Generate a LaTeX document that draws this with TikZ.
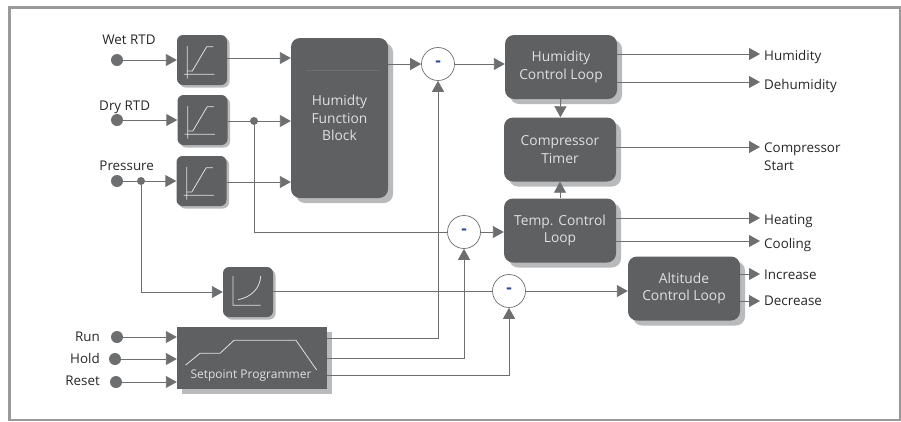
\documentclass[tikz,border=0pt]{standalone}
\usepackage{fontspec}
\setmainfont{Open Sans}
\usepackage{xcolor}
\usepackage{tikz}
\usetikzlibrary{positioning, arrows.meta, shadows, calc}
\definecolor{blockgrey}{HTML}{5F6062}
\definecolor{shadegrey}{HTML}{B9BABB}
\definecolor{wiregrey}{HTML}{6D6E70}
\definecolor{minusblue}{HTML}{2B4A9B}
\tikzset{
	wire/.style={color=wiregrey, line width=0.9pt},
	loopbox/.style={fill=blockgrey, rounded corners=9pt, minimum width=112pt, minimum height=64pt, inner sep=0pt, text=white!88!black, align=center, font=\fontsize{13.8}{17.7}\selectfont, drop shadow={shadow xshift=5pt, shadow yshift=-5pt, fill=shadegrey, opacity=1}},
	scalebox/.style={fill=blockgrey, rounded corners=6pt, minimum width=50pt, minimum height=50pt, inner sep=0pt, drop shadow={shadow xshift=2.5pt, shadow yshift=-2.5pt, fill=shadegrey, opacity=1}},
	dot/.style={circle, fill=wiregrey, inner sep=0pt, minimum size=#1},
	dot/.default=12pt,
	sumnode/.style={circle, draw=wiregrey, fill=white, line width=0.7pt, minimum size=33pt, inner sep=0pt, text=minusblue, font=\fontsize{17}{17}\selectfont\bfseries},
	txt/.style={text=black!85, inner sep=0pt, font=\fontsize{13.4}{18}\selectfont},
	icon/.style={draw=white!88!black, line width=0.8pt}
}
\newcommand{\rampicon}[1]{%
	\draw[icon, shift={(#1.center)}] (-14.7,-14) -- (-14.7,18.7) (-18,14.3) -- (12.3,14.3) (-14.7,11) -- (-9.7,11) -- (4.7,-13.3) -- (11.3,-13.3);}
\begin{document}
\begin{tikzpicture}[x=1pt, y=-1pt, >={Triangle[length=11pt, width=12pt]}]
	\useasboundingbox (0,0) rectangle (901,421);
	\draw[draw=black!40, line width=2.4pt] (9.3,7.3) rectangle (900,420);

	% Inputs
	\node[dot] (wet) at (117,60) {};
	\node[dot] (dry) at (117,120) {};
	\node[dot] (press) at (117,181) {};
	\node[dot] (run) at (117,337) {};
	\node[dot] (hold) at (115,359) {};
	\node[dot] (reset) at (116,382) {};
	\node[txt, anchor=base] (wetlabel) at (129,44) {Wet RTD};
	\node[txt, anchor=base] (drylabel) at (124.7,110) {Dry RTD};
	\node[txt, anchor=base] (presslabel) at (126.7,170) {Pressure};
	\node[txt, anchor=base east] (runlabel) at (100,341) {Run};
	\node[txt, anchor=base east] (holdlabel) at (100,363) {Hold};
	\node[txt, anchor=base east] (resetlabel) at (100,385) {Reset};

	% Blocks
	\node[scalebox] (wetscale) at (202,60) {};
	\node[scalebox] (dryscale) at (202.5,120) {};
	\node[scalebox] (pressscale) at (201.5,181) {};
	\node[scalebox] (altscale) at (248,292) {};
	\node[loopbox, minimum width=97pt, minimum height=160pt] (func) at (339.5,118) {Humidty\\Function\\Block};
	\draw[draw=wiregrey, line width=0.6pt] (306,70) -- (380,70);
	\node[fill=blockgrey, minimum width=150pt, minimum height=62pt, inner sep=0pt, drop shadow={shadow xshift=5pt, shadow yshift=-5pt, fill=shadegrey, opacity=1}] (prog) at (252,358) {};
	\node[text=white!88!black, inner sep=0pt, font=\fontsize{12}{12}\selectfont] (proglabel) at (251,376) {Setpoint Programmer};
	\node[loopbox] (humloop) at (561,67) {Humidity\\Control Loop};
	\node[loopbox] (timer) at (560,149.5) {Compressor\\Timer};
	\node[loopbox] (temploop) at (560,230.5) {Temp. Control\\Loop};
	\node[loopbox] (altloop) at (684,288.5) {Altitude\\Control Loop};

	% Curves drawn on the blocks
	\rampicon{wetscale}
	\rampicon{dryscale}
	\rampicon{pressscale}
	\draw[icon, shift={(altscale.center)}] (-15,-16) -- (-15,13.3) -- (12.7,13.3) (-10,7.7) .. controls (4,5) and (12,-4) .. (12.7,-16);
	\draw[icon] (185.7,365) -- (200,353.3) -- (220,353.3) -- (234,340.3) -- (296,340.3) -- (316.7,370);

	% Summing points
	\node[sumnode] (sumhum) at (438,64) {-};
	\node[sumnode] (sumtemp) at (464,232) {-};
	\node[sumnode] (sumalt) at (509,291) {-};

	% Branch points
	\node[dot=8pt] (drytap) at (254,121) {};
	\node[dot=8pt] (presstap) at (141,181) {};

	% Outputs
	\node[txt, anchor=base west] (humidity) at (764,60) {Humidity};
	\node[txt, anchor=base west] (dehum) at (764,89) {Dehumidity};
	\node[txt, anchor=base west] (start) at (764,152) {Compressor};
	\node[txt, anchor=base west] at (764,170) {Start};
	\node[txt, anchor=base west] (heating) at (764,224) {Heating};
	\node[txt, anchor=base west] (cooling) at (764,248) {Cooling};
	\node[txt, anchor=base west] (incr) at (764,279) {Increase};
	\node[txt, anchor=base west] (decr) at (764,305) {Decrease};
	\coordinate (humend) at (760,54);
	\coordinate (dehumend) at (760,82);
	\coordinate (startend) at (760,147);
	\coordinate (heatend) at (760,218);
	\coordinate (coolend) at (760,241);
	\coordinate (incrend) at (760,274);
	\coordinate (decrend) at (760,301);

	% Connections
	\path[wire, ->] (wet) edge (wetscale);
	\path[wire, ->] (dry) edge (dryscale);
	\path[wire, ->] (press) edge (pressscale);
	\path[wire, ->] (run) edge (prog.west |- run);
	\path[wire, ->] (hold) edge (prog.west |- hold);
	\path[wire, ->] (reset) edge (prog.west |- reset);
	\path[wire, ->] (wetscale.east |- 0,58) edge (func.west |- 0,58);
	\path[wire, ->] (dryscale.east |- drytap) edge (func.west |- drytap);
	\path[wire, ->] (pressscale.east |- 0,182) edge (func.west |- 0,182);
	\path[wire, ->] (func.east |- sumhum) edge (sumhum);
	\path[wire, ->] (sumhum) edge (humloop.west |- sumhum);
	\path[wire, ->] (humloop) edge (timer);
	\path[wire, ->] (temploop) edge (timer);
	\path[wire, ->] (sumtemp) edge (temploop.west |- sumtemp);
	\path[wire, ->] (sumalt) edge (altloop.west |- sumalt);
	\draw[wire] (drytap) |- (sumtemp);
	\draw[wire, ->] (presstap) |- (altscale);
	\draw[wire] (altscale.east |- sumalt) -- (sumalt);
	\draw[wire, ->] (prog.east |- 0,338) -| (sumhum);
	\draw[wire, ->] (prog.east |- 0,358) -| (sumtemp);
	\draw[wire, ->] (prog.east |- 0,375) -| (sumalt);
	\path[wire, ->] (humloop.east |- humend) edge (humend);
	\path[wire, ->] (humloop.east |- dehumend) edge (dehumend);
	\path[wire, ->] (timer.east |- startend) edge (startend);
	\path[wire, ->] (temploop.east |- heatend) edge (heatend);
	\path[wire, ->] (temploop.east |- coolend) edge (coolend);
	\path[wire, ->] (altloop.east |- incrend) edge (incrend);
	\path[wire, ->] (altloop.east |- decrend) edge (decrend);
\end{tikzpicture}
\end{document}
